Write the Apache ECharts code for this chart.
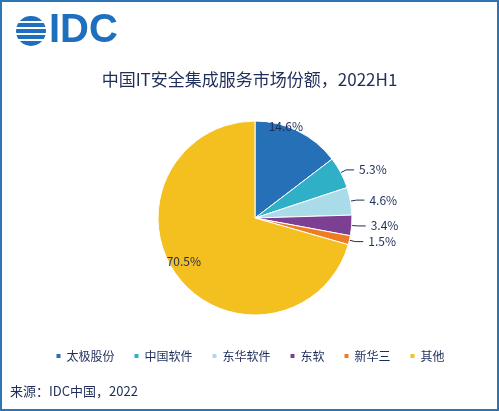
<!DOCTYPE html>
<html><head><meta charset="utf-8">
<script src="https://cdn.jsdelivr.net/npm/echarts@6/dist/echarts.min.js"></script>
<style>html,body{margin:0;padding:0;background:#fff}#c{width:499px;height:411px;box-sizing:border-box;border:2px solid #2e75b6}</style>
</head><body><div id="c"></div>
<script>
const categories=['太极股份','中国软件','东华软件','东软','新华三','其他'];
const values=[14.6,5.3,4.6,3.4,1.5,70.5];
const colors=['#2670b8','#2fb0c6','#a9dbe8','#7d3f91','#ef7c23','#f3c01f'];
const chart=echarts.init(document.getElementById('c'));
const cx=29,cy=29,R=15;
const logo=[{type:'circle',shape:{cx:cx,cy:cy,r:R},style:{fill:'#1f6fbf'}}];
[-9,-3,3,9].forEach(o=>logo.push({type:'rect',shape:{x:cx-R-1,y:cy+o-1,width:2*R+2,height:2},style:{fill:'#fff'}}));
chart.setOption({
 graphic:[...logo,{type:'text',left:47,top:9,style:{text:'IDC',font:'bold 40px Arial, Liberation Sans',fill:'#1f6fbf'}},
 {type:'text',left:8,top:383,style:{text:'来源：IDC中国，2022',font:'13px "Noto Sans CJK SC"',fill:'#1f2d5a'}}],
 title:{text:'中国IT安全集成服务市场份额，2022H1',left:'center',top:64,textStyle:{fontFamily:'Noto Sans CJK SC',fontSize:17,fontWeight:'normal',color:'#1f2d5a'}},
 legend:{bottom:42,left:'center',itemWidth:6,itemHeight:6,itemGap:18,icon:'rect',textStyle:{fontFamily:'Noto Sans CJK SC',fontSize:12,color:'#1f2d5a'},data:categories},
 series:[{type:'pie',center:[253,216],radius:[0,97],startAngle:90,clockwise:true,
  itemStyle:{borderColor:'#fff',borderWidth:1},
  label:{formatter:p=>p.value.toFixed(1)+'%',fontFamily:'Noto Sans CJK SC',fontSize:12,color:'#1f2d5a'},
  labelLine:{length:6,length2:8,lineStyle:{color:'#1f2d5a',width:1}},
  data:categories.map((n,i)=>({name:n,value:values[i],itemStyle:{color:colors[i]},
   label:i===5?{position:'inside',offset:[-30,12]}:(i===0?{position:'inside',offset:[8,-45]}:{}),
   labelLine:i===0?{show:false}:{}}))}]
});
</script></body></html>
